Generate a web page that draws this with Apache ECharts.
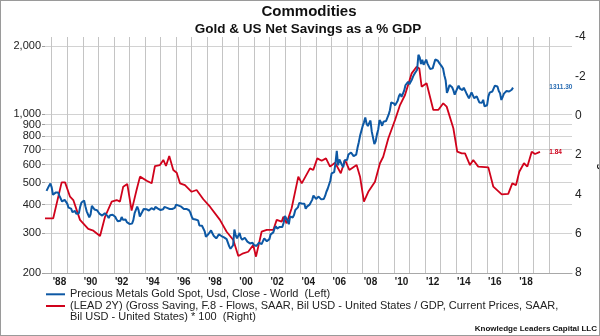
<!DOCTYPE html>
<html>
<head>
<meta charset="utf-8">
<script src="https://cdn.jsdelivr.net/npm/echarts@6/dist/echarts.min.js"></script>
<style>
  html, body { margin: 0; padding: 0; background: #fff; }
  #wrap { position: relative; width: 600px; height: 336px; }
  #chart { width: 600px; height: 336px; }
  #frame {
    position: absolute; left: 0; top: 0; width: 600px; height: 336px;
    box-sizing: border-box; border: 1px solid #9a9a9a; pointer-events: none;
  }
</style>
</head>
<body>
<div id="wrap">
  <div id="chart"></div>
  <div id="frame"></div>
</div>
<script>
// Gold spot price, USD/oz, one value per month starting Sep 1987
const goldStartYear = 1987 + 8 / 12;
const goldPrices = [
  460, 465, 485, 495,
  477, 442, 444, 452, 451, 452, 437, 432, 413, 406, 420, 419,
  404, 388, 390, 384, 371, 367, 375, 365, 362, 367, 392, 409,
  410, 417, 394, 374, 369, 352, 362, 395, 389, 381, 381, 378,
  383, 364, 363, 358, 357, 367, 368, 357, 349, 359, 360, 361,
  354, 354, 345, 338, 337, 340, 353, 343, 345, 344, 335, 334,
  329, 330, 330, 342, 367, 372, 392, 379, 355, 364, 373, 383,
  387, 382, 384, 377, 381, 386, 385, 380, 391, 389, 384, 379,
  379, 377, 382, 391, 385, 387, 386, 383, 383, 383, 386, 387,
  400, 405, 396, 393, 392, 385, 383, 387, 383, 381, 378, 369,
  355, 346, 352, 344, 344, 341, 324, 324, 323, 325, 306, 289,
  289, 297, 296, 308, 299, 292, 293, 284, 289, 296, 294, 291,
  287, 287, 286, 282, 277, 262, 256, 257, 265, 311, 293, 284,
  285, 300, 286, 280, 275, 286, 282, 275, 274, 270, 266, 272,
  266, 262, 263, 261, 272, 270, 268, 273, 284, 283, 276, 276,
  282, 296, 294, 302, 314, 321, 314, 310, 319, 317, 319, 333,
  357, 359, 340, 328, 355, 356, 351, 360, 379, 379, 389, 407,
  414, 405, 406, 404, 384, 392, 398, 400, 405, 420, 439, 442,
  424, 423, 434, 429, 422, 430, 424, 437, 456, 470, 476, 510,
  549, 555, 557, 610, 690, 596, 633, 632, 598, 585, 627, 629,
  631, 665, 655, 679, 667, 655, 665, 665, 712, 754, 806, 803,
  889, 922, 968, 909, 888, 889, 939, 839, 829, 740, 760, 816,
  858, 943, 924, 890, 928, 946, 934, 949, 996, 1043, 1127, 1134,
  1118, 1095, 1113, 1148, 1205, 1232, 1193, 1215, 1271, 1343, 1370, 1391,
  1356, 1372, 1424, 1473, 1510, 1529, 1572, 1830, 1780, 1666, 1739, 1652,
  1656, 1742, 1673, 1650, 1585, 1596, 1594, 1626, 1744, 1747, 1722, 1685,
  1671, 1627, 1593, 1487, 1414, 1243, 1286, 1347, 1349, 1316, 1275, 1221,
  1244, 1300, 1336, 1299, 1288, 1279, 1311, 1296, 1239, 1222, 1176, 1200,
  1250, 1227, 1179, 1198, 1199, 1181, 1128, 1117, 1125, 1159, 1086, 1068,
  1097, 1199, 1246, 1242, 1260, 1276, 1337, 1341, 1326, 1267, 1238, 1157,
  1192, 1234, 1231, 1266, 1246, 1260, 1236, 1283, 1311.30
];

// US net savings as % of GDP, shifted forward two years (decimal year, percent)
const savingsYears = [
  1987.57, 1988.10, 1988.64, 1988.86, 1989.18, 1989.39, 1989.82, 1990.35, 1990.68,
  1991.11, 1991.43, 1991.86, 1992.18, 1992.39, 1992.60, 1992.86, 1993.14, 1993.47,
  1993.68, 1994.11, 1994.43, 1994.64, 1994.96, 1995.18, 1995.35, 1995.56, 1995.82,
  1996.04, 1996.25, 1996.57, 1997.00, 1997.32, 1997.75, 1998.18, 1998.82, 1999.25,
  1999.68, 2000.00, 2000.32, 2000.64, 2000.96, 2001.14, 2001.50, 2001.83, 2002.25,
  2002.47, 2002.79, 2002.90, 2003.11, 2003.43, 2003.86, 2004.08, 2004.61, 2004.82,
  2005.08, 2005.36, 2005.64, 2005.90, 2006.22, 2006.59, 2006.86, 2007.14, 2007.61,
  2007.83, 2008.08, 2008.36, 2008.79, 2009.11, 2009.32, 2009.65, 2010.08, 2010.40,
  2010.72, 2011.15, 2011.47, 2011.64, 2011.79, 2012.11, 2012.54, 2012.86, 2013.18,
  2013.40, 2013.83, 2014.08, 2014.37, 2014.58, 2014.90, 2015.11, 2015.43, 2016.08,
  2016.40, 2016.94, 2017.36, 2017.62, 2017.86, 2018.07, 2018.37, 2018.59, 2018.87,
  2019.08, 2019.40
];
const savingsValues = [
  5.22, 5.22, 3.39, 3.39, 4.12, 4.29, 5.30, 5.76, 5.85,
  6.12, 5.14, 4.37, 4.29, 4.37, 3.61, 3.47, 4.83, 3.74,
  3.10, 3.31, 3.44, 2.56, 2.51, 2.25, 2.56, 2.05, 2.76,
  2.90, 3.44, 3.53, 3.87, 3.78, 4.25, 4.63, 5.30, 5.90,
  6.32, 7.14, 7.00, 6.92, 6.58, 7.17, 5.90, 5.81, 5.81,
  5.30, 5.39, 5.14, 5.47, 4.71, 3.10, 3.44, 2.68, 2.76,
  2.17, 2.29, 2.17, 2.59, 2.39, 2.93, 2.25, 2.76, 2.51,
  3.10, 4.37, 3.87, 3.36, 2.42, 2.09, 1.15, 0.22, -0.54,
  -1.05, -2.15, -2.49, -2.40, -1.47, -1.65, -0.29, -0.29, -0.63,
  -0.46, 0.64, 1.83, 1.92, 1.92, 2.51, 2.25, 2.59, 2.63,
  3.61, 4.00, 3.98, 3.44, 3.53, 2.85, 2.42, 2.59, 1.83,
  1.95, 1.84
];

// Axis ticks
const goldTicks = [200, 300, 400, 500, 600, 700, 800, 900, 1000, 2000];
const yearLines = [];
for (let y = 1988; y <= 2020; y++) yearLines.push(y);
const yearLabels = [];
for (let y = 1988; y <= 2018; y += 2) yearLabels.push(y + 0.5);

const goldLast = goldPrices[goldPrices.length - 1];
const savingsLast = savingsValues[savingsValues.length - 1];

const FONT = '"Liberation Sans", Arial, Helvetica, sans-serif';
const BLUE = '#0d58a4';
const RED = '#d0021b';

// Leading blank line keeps the swatch level with the first line of text
const legendText = {
  gold: 'Precious Metals Gold Spot, Usd, Close - World  (Left)',
  savings: ' \n(LEAD 2Y) (Gross Saving, F.8 - Flows, SAAR, Bil USD - United States / GDP, Current Prices, SAAR,\nBil USD - United States) * 100  (Right)'
};

// Gold is plotted on a log10 scale so the grid can carry 200..900, 1,000, 2,000
const goldData = goldPrices.map((v, i) => [goldStartYear + i / 12, Math.log10(v)]);
const savingsData = savingsYears.map((y, i) => [y, savingsValues[i]]);

const chart = echarts.init(document.getElementById('chart'), null, { renderer: 'canvas' });

chart.setOption({
  animation: false,
  backgroundColor: '#fff',
  textStyle: { fontFamily: FONT },
  title: [
    {
      text: 'Commodities', left: 309, top: 4, textAlign: 'center', padding: 0,
      textStyle: { fontFamily: FONT, fontSize: 15, fontWeight: 'bold', color: '#111' }
    },
    {
      text: 'Gold & US Net Savings as a % GDP', left: 308, top: 22, textAlign: 'center', padding: 0,
      textStyle: { fontFamily: FONT, fontSize: 13.5, fontWeight: 'bold', color: '#111' }
    },
    {
      text: 'Knowledge Leaders Capital LLC', left: 597, top: 325, textAlign: 'right', padding: 0,
      textStyle: { fontFamily: FONT, fontSize: 8, fontWeight: 'bold', color: '#111' }
    }
  ],
  legend: [
    {
      data: ['gold'], left: 46, top: 288.8, orient: 'vertical', padding: 0,
      icon: 'rect', itemWidth: 19, itemHeight: 2,
      formatter: n => legendText[n],
      textStyle: { fontFamily: FONT, fontSize: 11, lineHeight: 11, color: '#222' }
    },
    {
      data: ['savings'], left: 46, top: 289.5, orient: 'vertical', padding: 0,
      icon: 'rect', itemWidth: 19, itemHeight: 2,
      formatter: n => legendText[n],
      textStyle: { fontFamily: FONT, fontSize: 11, lineHeight: 11, color: '#222' }
    }
  ],
  grid: { left: 45, right: 28, top: 37, bottom: 63, containLabel: false, outerBoundsMode: 'none' },
  xAxis: {
    type: 'value', min: 1987.57, max: 2021.46,
    axisLine: { show: true, onZero: false, lineStyle: { color: '#a8a8a8', width: 1 } },
    axisTick: { show: false, customValues: yearLines },
    splitLine: { show: true, lineStyle: { color: '#c4c4c4', width: 1 } },
    axisLabel: {
      customValues: yearLabels, margin: 4,
      formatter: v => "'" + String(Math.floor(v)).slice(2),
      fontFamily: FONT, fontSize: 10, fontWeight: 'bold', color: '#1a1a1a'
    }
  },
  yAxis: [
    {
      type: 'value', position: 'left',
      min: Math.log10(200), max: Math.log10(2191),
      name: 'Gold', nameLocation: 'middle', nameGap: 31, nameRotate: 90,
      nameTextStyle: { fontFamily: FONT, fontSize: 10.5, fontWeight: 'bold', color: '#111' },
      axisLine: { show: false },
      axisTick: { show: true, inside: false, length: 3, lineStyle: { color: '#a0a0a0' },
        customValues: goldTicks.map(v => Math.log10(v)) },
      splitLine: { show: true, lineStyle: { color: '#d2d2d2', width: 1 } },
      axisLabel: {
        customValues: goldTicks.map(v => Math.log10(v)), margin: 4,
        formatter: v => Math.round(Math.pow(10, v)).toLocaleString('en-US'),
        fontFamily: FONT, fontSize: 11, color: '#222'
      }
    },
    {
      type: 'value', position: 'right', inverse: true,
      min: -4, max: 8, interval: 2,
      name: 'Savings', nameLocation: 'middle', nameGap: 13, nameRotate: -90,
      nameTextStyle: { fontFamily: FONT, fontSize: 11, fontWeight: 'bold', color: '#111' },
      axisLine: { show: false },
      axisTick: { show: false },
      splitLine: { show: false },
      axisLabel: { margin: 3, fontFamily: FONT, fontSize: 12, color: '#222' }
    }
  ],
  series: [
    {
      name: 'gold', type: 'line', yAxisIndex: 0, data: goldData,
      showSymbol: false, symbol: 'none', z: 4,
      color: BLUE, lineStyle: { color: BLUE, width: 2 },
      markPoint: {
        symbol: 'circle', symbolSize: 0,
        data: [{ coord: [2020.0, Math.log10(goldLast)], value: goldLast }],
        label: {
          show: true, position: 'right', distance: 0,
          formatter: () => goldLast.toFixed(2),
          fontFamily: FONT, fontSize: 6.5, fontWeight: 'bold', color: '#2a6db3'
        }
      }
    },
    {
      name: 'savings', type: 'line', yAxisIndex: 1, data: savingsData,
      showSymbol: false, symbol: 'none', z: 3,
      color: RED, lineStyle: { color: RED, width: 1.8 },
      markPoint: {
        symbol: 'circle', symbolSize: 0,
        data: [{ coord: [2020.0, savingsLast], value: savingsLast }],
        label: {
          show: true, position: 'right', distance: 0,
          formatter: () => savingsLast.toFixed(2),
          fontFamily: FONT, fontSize: 6.5, fontWeight: 'bold', color: RED
        }
      }
    }
  ]
});
</script>
</body>
</html>
